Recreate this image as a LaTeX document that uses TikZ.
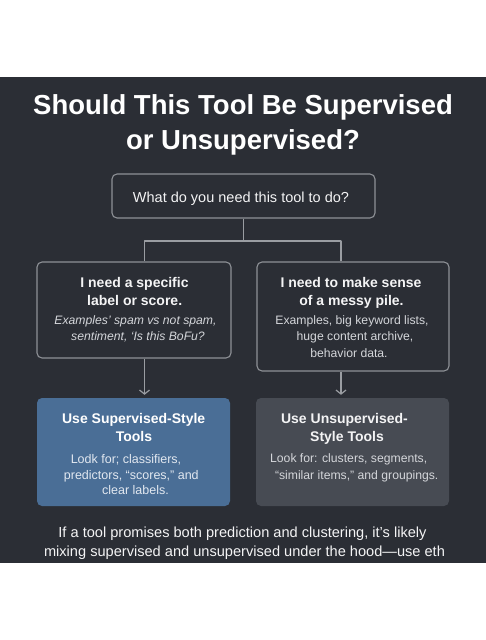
\documentclass[tikz,border=0pt]{standalone}
\usepackage{fontspec}
\setmainfont{Liberation Sans}
\usetikzlibrary{arrows.meta}
\definecolor{bg}{HTML}{2B2E35}
\definecolor{boxline}{HTML}{8E9196}
\definecolor{connline}{HTML}{9A9DA2}
\definecolor{bluebox}{HTML}{4A6E96}
\definecolor{graybox}{HTML}{474B53}
\definecolor{headtxt}{HTML}{F4F4F5}
\definecolor{bodytxt}{HTML}{D4D6DA}
\definecolor{bluetxt}{HTML}{E2E8F0}
\begin{document}
\begin{tikzpicture}[x=1pt,y=-1pt,
  box/.style={draw=boxline, line width=1.1pt, rounded corners=5pt, inner sep=0pt},
  filledbox/.style={rounded corners=5pt, inner sep=0pt},
  conn/.style={draw=connline, line width=1.2pt},
  arr/.style={conn, -{Straight Barb[length=4pt,width=10pt,line width=1.2pt]}, shorten >=3pt},
  titletxt/.style={anchor=base, text=white, font=\fontsize{27.5}{33}\selectfont\bfseries, inner sep=0pt},
  headtext/.style={anchor=base, text=headtxt, font=\fontsize{14}{17}\selectfont\bfseries, inner sep=0pt},
  qtext/.style={anchor=base, text=headtxt, font=\fontsize{14.5}{17}\selectfont, inner sep=0pt},
  bodytext/.style={anchor=base, text=bodytxt, font=\fontsize{12.2}{14}\selectfont, inner sep=0pt},
  bodyital/.style={anchor=base, text=bodytxt, font=\fontsize{12.2}{14}\selectfont\itshape, inner sep=0pt},
  foottext/.style={anchor=base, text=headtxt, font=\fontsize{14.6}{17}\selectfont, inner sep=0pt}
]
\useasboundingbox (0,0) rectangle (486,640);
\fill[white] (0,0) rectangle (486,640);
\fill[bg] (0,77) rectangle (486,563);

% title
\node[titletxt] (t1) at (243,114) {Should This Tool Be Supervised};
\node[titletxt] (t2) at (243,149) {or Unsupervised?};

% boxes
\node[box, fill=bg, minimum width=263pt, minimum height=44pt] (q) at (243.5,196) {};
\node[box, fill=bg, minimum width=194pt, minimum height=96pt] (a) at (134,310) {};
\node[box, fill=bg, minimum width=192pt, minimum height=109pt] (b) at (353,316.5) {};
\node[filledbox, fill=bluebox, minimum width=193pt, minimum height=108pt] (s) at (133.5,452) {};
\node[filledbox, fill=graybox, minimum width=193pt, minimum height=108pt] (u) at (352.5,452) {};

% connectors
\coordinate (jl) at (144.5,241);
\coordinate (jr) at (341,241);
\draw[conn] (q.south) -- (q.south |- jl);
\draw[conn, line cap=round] (jl) -- (jr);
\draw[conn] (jl) -- (jl |- a.north);
\draw[conn] (jr) -- (jr |- b.north);
\draw[arr] (jl |- a.south) -- (jl |- s.north);
\draw[arr] (jr |- b.south) -- (jr |- u.north);

% question
\node[qtext] (qt) at (241,202) {What do you need this tool to do?};

% left question box
\node[headtext] (a1) at (134.5,287.7) {I need a specific};
\node[headtext] (a2) at (134.7,305) {label or score.};
\node[bodyital] (a3) at (135.5,324) {Examples’ spam vs not spam,};
\node[bodyital] (a4) at (138,340.7) {sentiment, ‘Is this BoFu?};

% right question box
\node[headtext] (b1) at (351,287.7) {I need to make sense};
\node[headtext] (b2) at (351.5,305) {of a messy pile.};
\node[bodytext] (b3) at (352,324) {Examples, big keyword lists,};
\node[bodytext] (b4) at (355,340.7) {huge content archive,};
\node[bodytext] (b5) at (349,357.3) {behavior data.};

% supervised box
\node[headtext, text=white] (s1) at (133.7,423.3) {Use Supervised-Style};
\node[headtext, text=white] (s2) at (134,441) {Tools};
\node[bodytext, text=bluetxt, font=\fontsize{12.5}{14}\selectfont] (s3) at (126,463.3) {Lodk for; classifiers,};
\node[bodytext, text=bluetxt, font=\fontsize{12.5}{14}\selectfont] (s4) at (131.3,479) {predictors, “scores,” and};
\node[bodytext, text=bluetxt, font=\fontsize{12.5}{14}\selectfont] (s5) at (135.5,494.3) {clear labels.};

% unsupervised box
\node[headtext] (u1) at (344.5,423.3) {Use Unsupervised-};
\node[headtext] (u2) at (347,441) {Style Tools};
\node[bodytext] (u3) at (348.7,462.7) {Look for: clusters, segments,};
\node[bodytext] (u4) at (356.7,479) {“similar items,” and groupings.};

% footer
\node[foottext] (f1) at (242.5,537.3) {If a tool promises both prediction and clustering, it’s likely};
\node[foottext] (f2) at (244.5,556) {mixing supervised and unsupervised under the hood—use eth};
\end{tikzpicture}
\end{document}
